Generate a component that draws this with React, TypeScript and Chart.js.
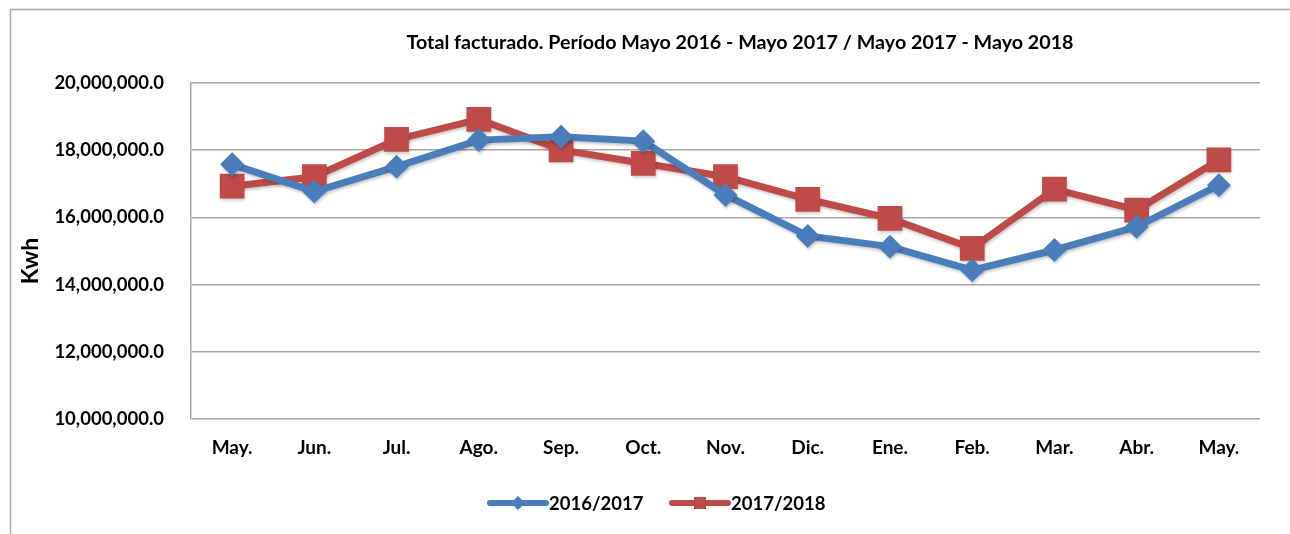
import React, { useEffect, useRef } from "react";
import { Chart, registerables } from "chart.js";

Chart.register(...registerables);

const categories = ["May.", "Jun.", "Jul.", "Ago.", "Sep.", "Oct.", "Nov.", "Dic.", "Ene.", "Feb.", "Mar.", "Abr.", "May."];
const serie2016 = [17580000, 16770000, 17510000, 18300000, 18400000, 18270000, 16670000, 15450000, 15130000, 14430000, 15030000, 15720000, 16960000];
const serie2017 = [16930000, 17210000, 18320000, 18920000, 18010000, 17610000, 17210000, 16540000, 15970000, 15080000, 16840000, 16220000, 17710000];
const seriesNames = ["2016/2017", "2017/2018"];
const titleText = "Total facturado. Período Mayo 2016 - Mayo 2017 / Mayo 2017 - Mayo 2018";
const yTitle = "Kwh";

const BLUE = "#4A7EBB";
const RED = "#BE4B48";
const FONT = "Lato, 'Open Sans', sans-serif";

const decorPlugin = {
  id: "decor",
  beforeDraw(chart: any) {
    const ctx = chart.ctx;
    ctx.save();
    ctx.fillStyle = "#ffffff";
    ctx.fillRect(0, 0, chart.width, chart.height);
    ctx.strokeStyle = "#A6A6A6";
    ctx.lineWidth = 1.5;
    ctx.strokeRect(10.5, 9.5, chart.width + 20, chart.height + 20);
    ctx.restore();
  },
  beforeDatasetsDraw(chart: any) {
    const ctx = chart.ctx;
    ctx.save();
    ctx.shadowColor = "rgba(0,0,0,0.22)";
    ctx.shadowBlur = 3;
    ctx.shadowOffsetX = 1;
    ctx.shadowOffsetY = 2;
  },
  afterDatasetsDraw(chart: any) {
    chart.ctx.restore();
  },
  afterDraw(chart: any) {
    const ctx = chart.ctx;
    ctx.save();
    ctx.fillStyle = "#000000";
    ctx.textAlign = "center";
    ctx.textBaseline = "middle";
    ctx.font = `bold 19.7px ${FONT}`;
    ctx.fillText(titleText, 740, 43);

    ctx.save();
    ctx.translate(31, 261);
    ctx.rotate(-Math.PI / 2);
    ctx.font = `bold 23px ${FONT}`;
    ctx.fillText(yTitle, 0, 0);
    ctx.restore();

    // legend
    const items = [
      { x: 490, color: BLUE, style: "rectRot", label: seriesNames[0] },
      { x: 672, color: RED, style: "rect", label: seriesNames[1] },
    ];
    const ly = 503;
    ctx.font = `bold 18.5px ${FONT}`;
    ctx.textAlign = "left";
    items.forEach((it) => {
      ctx.strokeStyle = it.color;
      ctx.lineWidth = 6;
      ctx.lineCap = "round";
      ctx.beginPath();
      ctx.moveTo(it.x, ly);
      ctx.lineTo(it.x + 56, ly);
      ctx.stroke();
      ctx.fillStyle = it.color;
      ctx.beginPath();
      if (it.style === "rect") {
        ctx.rect(it.x + 28 - 6, ly - 6, 12, 12);
      } else {
        ctx.moveTo(it.x + 28, ly - 7);
        ctx.lineTo(it.x + 35, ly);
        ctx.lineTo(it.x + 28, ly + 7);
        ctx.lineTo(it.x + 21, ly);
        ctx.closePath();
      }
      ctx.fill();
      ctx.fillStyle = "#000000";
      ctx.fillText(it.label, it.x + 59, ly + 1);
    });
    ctx.restore();
  },
};

export default function App() {
  const ref = useRef<HTMLCanvasElement>(null);
  useEffect(() => {
    if (!ref.current) return;
    const chart = new Chart(ref.current, {
      type: "line",
      data: {
        labels: categories,
        datasets: [
          {
            label: seriesNames[0],
            data: serie2016,
            borderColor: BLUE,
            backgroundColor: BLUE,
            borderWidth: 7,
            pointStyle: "rectRot",
            pointRadius: 12,
            pointBorderWidth: 0,
            pointBackgroundColor: BLUE,
            tension: 0,
          },
          {
            label: seriesNames[1],
            data: serie2017,
            borderColor: RED,
            backgroundColor: RED,
            borderWidth: 7,
            pointStyle: "rect",
            pointRadius: 17.5,
            pointBorderWidth: 0,
            pointBackgroundColor: RED,
            tension: 0,
          },
        ],
      },
      options: {
        responsive: false,
        animation: false,
        layout: { padding: { left: 10, top: 83, right: 30, bottom: 0 } },
        plugins: {
          legend: { display: false },
          title: { display: false },
          tooltip: { enabled: false },
        },
        scales: {
          x: {
            offset: true,
            grid: { display: false, drawTicks: false },
            border: { display: false },
            ticks: {
              color: "#000",
              font: { family: FONT, weight: "bold", size: 19 },
              padding: 17,
              maxRotation: 0,
            },
            afterFit: (s: any) => {
              s.height = 115;
            },
          },
          y: {
            min: 10000000,
            max: 20000000,
            grid: { color: "#A6A6A6", lineWidth: 1.5, drawTicks: false },
            border: { display: true, color: "#A6A6A6", width: 1.5 },
            ticks: {
              stepSize: 2000000,
              color: "#000",
              padding: 27,
              font: { family: FONT, weight: "bold", size: 18.5 },
              callback: (v: any) =>
                Number(v).toLocaleString("en-US", { minimumFractionDigits: 1, maximumFractionDigits: 1 }),
            },
            afterFit: (s: any) => {
              s.width = 181;
            },
          },
        },
      },
      plugins: [decorPlugin],
    } as any);
    return () => chart.destroy();
  }, []);
  return (
    <div style={{ position: "fixed", left: 0, top: 0, width: 1290, height: 534, background: "#fff" }}>
      <canvas ref={ref} width={1290} height={534} />
    </div>
  );
}
